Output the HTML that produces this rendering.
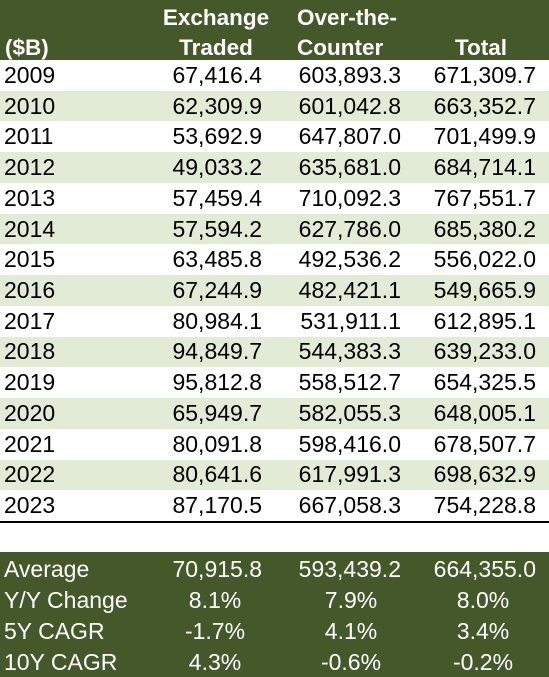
<!DOCTYPE html>
<html><head><meta charset="utf-8"><style>
body{margin:0;width:549px;height:677px;background:#fff;font-family:"Liberation Sans",sans-serif;font-size:23px;color:#000;position:relative;overflow:hidden}
.a{position:absolute;white-space:nowrap;line-height:30px}
.hd{position:absolute;left:0;top:0;width:549px;height:60px;background:#45582a}
.h{position:absolute;color:#fff;font-weight:bold;white-space:nowrap;line-height:30px;font-size:22.5px}
.ft{position:absolute;left:0;top:552px;width:549px;height:125px;background:#45582a}
.row{position:absolute;left:0;width:549px}
.f{color:#fff}
</style></head><body>
<div class="hd"></div>
<div class="h" style="left:5px;top:33px">($B)</div>
<div class="h" style="left:160px;top:3px;width:112px;text-align:center">Exchange</div>
<div class="h" style="left:160px;top:33px;width:112px;text-align:center">Traded</div>
<div class="h" style="left:297px;top:3px">Over-the-</div>
<div class="h" style="left:297px;top:33px">Counter</div>
<div class="h" style="left:440px;top:33px;width:82px;text-align:center">Total</div>
<div id="rows"></div>
<div style="position:absolute;left:0;top:521px;width:549px;height:2px;background:#000"></div>
<div class="ft"></div>
<div id="sum"></div>
<script>
const years=["2009","2010","2011","2012","2013","2014","2015","2016","2017","2018","2019","2020","2021","2022","2023"];
const exch=["67,416.4","62,309.9","53,692.9","49,033.2","57,459.4","57,594.2","63,485.8","67,244.9","80,984.1","94,849.7","95,812.8","65,949.7","80,091.8","80,641.6","87,170.5"];
const otc=["603,893.3","601,042.8","647,807.0","635,681.0","710,092.3","627,786.0","492,536.2","482,421.1","531,911.1","544,383.3","558,512.7","582,055.3","598,416.0","617,991.3","667,058.3"];
const tot=["671,309.7","663,352.7","701,499.9","684,714.1","767,551.7","685,380.2","556,022.0","549,665.9","612,895.1","639,233.0","654,325.5","648,005.1","678,507.7","698,632.9","754,228.8"];
const sLabels=["Average","Y/Y Change","5Y CAGR","10Y CAGR"];
const sEx=["70,915.8","8.1%","-1.7%","4.3%"];
const sOtc=["593,439.2","7.9%","4.1%","-0.6%"];
const sTot=["664,355.0","8.0%","3.4%","-0.2%"];
const R=document.getElementById('rows');
const rh=461/15;
function cell(parent,txt,left,width,align,top,cls){const d=document.createElement('div');d.className='a'+(cls?' '+cls:'');d.textContent=txt;d.style.left=left+'px';d.style.top=top+'px';d.style.width=width+'px';d.style.textAlign=align;parent.appendChild(d);return d;}
years.forEach((y,i)=>{
 const top=60+i*rh;
 const bg=document.createElement('div');bg.className='row';bg.style.top=top+'px';bg.style.height=(rh+0.5)+'px';bg.style.background=i%2?'#e2ebd5':'#fff';
 
 
 R.appendChild(bg);
 const t=top+rh/2-15.5;
 let c=cell(R,y,4,80,'left',t);
 c=cell(R,exch[i],140,122,'right',t);
 c=cell(R,otc[i],270,131,'right',t);
 c=cell(R,tot[i],410,126,'right',t);
});
const S=document.getElementById('sum');
sLabels.forEach((l,i)=>{
 const t=554+i*31;
 let c=cell(S,l,4,150,'left',t,'f');
 const num=i===0;
 c=num?cell(S,sEx[i],140,122,'right',t,'f'):cell(S,sEx[i],155,120,'center',t,'f');
 c=num?cell(S,sOtc[i],270,131,'right',t,'f'):cell(S,sOtc[i],291,120,'center',t,'f');
 c=num?cell(S,sTot[i],410,126,'right',t,'f'):cell(S,sTot[i],423,120,'center',t,'f');
});
</script>
</body></html>
